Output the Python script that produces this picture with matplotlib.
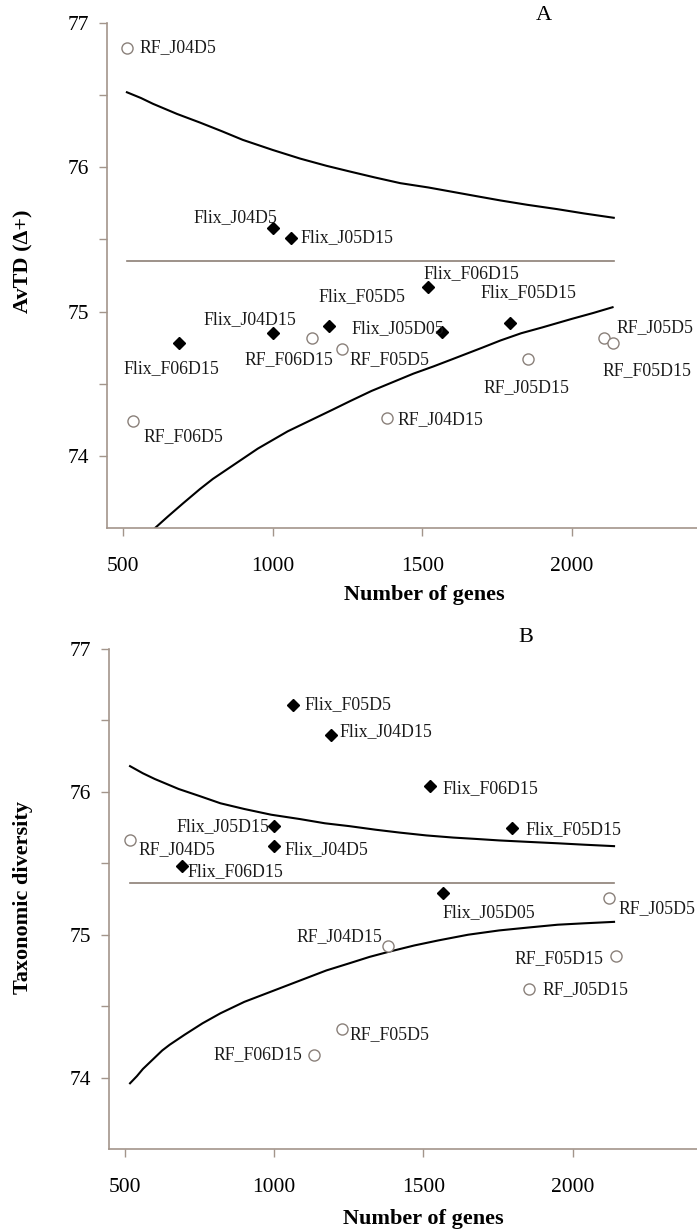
import numpy as np
import matplotlib.pyplot as plt

plt.rcParams['font.family'] = ['Liberation Serif', 'DejaVu Serif']

# --- Panel A: AvTD (Delta+) ---
a_flix_names = ['Flix_J04D5', 'Flix_J05D15', 'Flix_F06D15', 'Flix_F05D5', 'Flix_J05D05',
                'Flix_F05D15', 'Flix_J04D15', 'Flix_F06D15']
a_flix_genes = [1000, 1062, 1517, 1189, 1567, 1791, 1000, 687]
a_flix_avtd = [75.58, 75.51, 75.17, 74.90, 74.86, 74.92, 74.85, 74.78]

a_rf_names = ['RF_J04D5', 'RF_F06D5', 'RF_F06D15', 'RF_F05D5', 'RF_J04D15',
              'RF_J05D15', 'RF_J05D5', 'RF_F05D15']
a_rf_genes = [513, 533, 1132, 1232, 1380, 1854, 2108, 2135]
a_rf_avtd = [76.83, 74.24, 74.82, 74.74, 74.26, 74.67, 74.82, 74.78]

a_mean = 75.35
a_upper_genes = [513, 560, 600, 680, 757, 830, 900, 1000, 1092, 1180, 1259, 1340, 1426,
                 1520, 1600, 1680, 1761, 1850, 1950, 2040, 2139]
a_upper = [76.52, 76.48, 76.44, 76.37, 76.31, 76.25, 76.19, 76.12, 76.06, 76.01, 75.97,
           75.93, 75.89, 75.86, 75.83, 75.80, 75.77, 75.74, 75.71, 75.68, 75.65]
a_lower_genes = [590, 607, 650, 700, 757, 800, 850, 900, 950, 1000, 1050, 1100, 1150, 1200,
                 1259, 1330, 1400, 1470, 1537, 1600, 1650, 1700, 1761, 1830, 1900, 2000,
                 2070, 2135]
a_lower = [73.47, 73.50, 73.58, 73.67, 73.77, 73.84, 73.91, 73.98, 74.05, 74.11, 74.17,
           74.22, 74.27, 74.32, 74.38, 74.45, 74.51, 74.57, 74.62, 74.67, 74.71, 74.75,
           74.80, 74.85, 74.89, 74.95, 74.99, 75.03]

# --- Panel B: taxonomic diversity ---
b_flix_names = ['Flix_F05D5', 'Flix_J04D15', 'Flix_F06D15', 'Flix_F05D15', 'Flix_J05D15',
                'Flix_J04D5', 'Flix_F06D15', 'Flix_J05D05']
b_flix_genes = [1062, 1189, 1523, 1797, 1000, 1000, 691, 1567]
b_flix_td = [76.61, 76.40, 76.04, 75.75, 75.76, 75.62, 75.48, 75.29]

b_rf_names = ['RF_J04D5', 'RF_J05D5', 'RF_J04D15', 'RF_F05D15', 'RF_J05D15', 'RF_F05D5', 'RF_F06D15']
b_rf_genes = [517, 2122, 1383, 2145, 1854, 1229, 1135]
b_rf_td = [75.66, 75.26, 74.92, 74.85, 74.62, 74.34, 74.16]

b_mean = 75.36
b_upper_genes = [517, 560, 600, 680, 751, 820, 900, 990, 1085, 1170, 1252, 1340, 1420,
                 1510, 1600, 1680, 1754, 1850, 1950, 2040, 2139]
b_upper = [76.18, 76.13, 76.09, 76.02, 75.97, 75.92, 75.88, 75.84, 75.81, 75.78, 75.76,
           75.735, 75.715, 75.695, 75.68, 75.67, 75.66, 75.65, 75.64, 75.63, 75.62]
b_lower_genes = [517, 540, 560, 580, 600, 625, 650, 700, 760, 820, 900, 1000, 1100, 1175,
                 1252, 1320, 1383, 1470, 1550, 1650, 1754, 1850, 1950, 2040, 2139]
b_lower = [73.96, 74.01, 74.06, 74.10, 74.14, 74.19, 74.23, 74.30, 74.38, 74.45, 74.53,
           74.61, 74.69, 74.75, 74.80, 74.845, 74.88, 74.925, 74.96, 75.00, 75.03,
           75.05, 75.07, 75.08, 75.09]

# label offsets in pixels (dx, dy, ha)
a_flix_off = [(5, 10, 'right'), (9, 0, 'left'), (-4, 13, 'left'), (-11, 29, 'left'),
              (2, 3, 'right'), (-29, 30, 'left'), (-69, 14, 'left'), (-56, -25, 'left')]
a_rf_off = [(13, 0, 'left'), (11, -15, 'left'), (21, -22, 'right'), (7, -11, 'left'),
            (11, -1, 'left'), (-45, -28, 'left'), (12, 10, 'left'), (-10, -27, 'left')]
b_flix_off = [(12, 0, 'left'), (9, 3, 'left'), (12, -2, 'left'), (13, -2, 'left'),
              (-5, 0, 'right'), (10, -3, 'left'), (6, -5, 'left'), (-1, -19, 'left')]
b_rf_off = [(8, -9, 'left'), (10, -11, 'left'), (-6, 10, 'right'), (-12, -2, 'right'),
            (13, -1, 'left'), (7, -6, 'left'), (-12, 0, 'right')]

spine_col = '#a3958b'
mean_col = '#8c7f76'
circ_col = '#8a807a'

fig = plt.figure(figsize=(6.97, 12.3), dpi=100)


def draw_panel(ax, flix_x, flix_y, flix_n, flix_off, rf_x, rf_y, rf_n, rf_off,
               mean, up_x, up_y, lo_x, lo_y):
    ax.plot(up_x, up_y, color='black', lw=1.5, zorder=2)
    ax.plot(lo_x, lo_y, color='black', lw=1.5, zorder=2)
    ax.plot([min(up_x), max(up_x)], [mean, mean], color=mean_col, lw=1.2, zorder=2)
    ax.plot(flix_x, flix_y, 'D', color='black', ms=6, ls='none', zorder=3)
    ax.plot(rf_x, rf_y, 'o', mfc='white', mec=circ_col, mew=1.0, ms=8, ls='none', zorder=3)
    for x, y, n, (dx, dy, ha) in zip(flix_x, flix_y, flix_n, flix_off):
        ax.annotate(n, (x, y), xytext=(dx, dy), textcoords='offset pixels',
                    ha=ha, va='center', fontsize=12.8, color='#1a1a1a')
    for x, y, n, (dx, dy, ha) in zip(rf_x, rf_y, rf_n, rf_off):
        ax.annotate(n, (x, y), xytext=(dx, dy), textcoords='offset pixels',
                    ha=ha, va='center', fontsize=12.8, color='#1a1a1a')

    ax.set_xlim(446.5, 2417)
    ax.set_ylim(73.5, 77)
    ax.set_xticks([500, 1000, 1500, 2000])
    ax.set_yticks([74, 75, 76, 77])
    ax.set_yticks([74.5, 75.5, 76.5], minor=True)
    ax.spines['top'].set_visible(False)
    ax.spines['right'].set_visible(False)
    for s in ('left', 'bottom'):
        ax.spines[s].set_color(spine_col)
        ax.spines[s].set_linewidth(1.2)
    ax.tick_params(axis='y', which='both', direction='out', length=6, width=1.0,
                   color=spine_col, labelsize=15.5, pad=7)
    ax.tick_params(axis='x', which='both', direction='out', length=6, width=1.0,
                   color=spine_col, labelsize=15.5, pad=15)
    ax.patch.set_alpha(0)


ax1 = fig.add_axes([107 / 697, 1 - 528 / 1230, 590 / 697, 505 / 1230])
draw_panel(ax1, a_flix_genes, a_flix_avtd, a_flix_names, a_flix_off,
           a_rf_genes, a_rf_avtd, a_rf_names, a_rf_off,
           a_mean, a_upper_genes, a_upper, a_lower_genes, a_lower)

ax2 = fig.add_axes([109 / 697, 1 - 1149 / 1230, 588 / 697, 500 / 1230])
draw_panel(ax2, b_flix_genes, b_flix_td, b_flix_names, b_flix_off,
           b_rf_genes, b_rf_td, b_rf_names, b_rf_off,
           b_mean, b_upper_genes, b_upper, b_lower_genes, b_lower)

# panel letters and axis titles
fig.text(544 / 697, 1 - 15 / 1230, 'A', ha='center', va='center', fontsize=16)
fig.text(526 / 697, 1 - 637 / 1230, 'B', ha='center', va='center', fontsize=16)
fig.text(424 / 697, 1 - 600 / 1230, 'Number of genes', ha='center', va='baseline',
         fontsize=16, fontweight='bold')
fig.text(423 / 697, 1 - 1224 / 1230, 'Number of genes', ha='center', va='baseline',
         fontsize=16, fontweight='bold')
fig.text(23 / 697, 1 - 261 / 1230, 'AvTD (Δ+)', ha='center', va='center', rotation=90,
         fontsize=16, fontweight='bold')
fig.text(23 / 697, 1 - 898 / 1230, 'Taxonomic diversity', ha='center', va='center',
         rotation=90, fontsize=16, fontweight='bold')

fig.savefig('out.png', dpi=100)
